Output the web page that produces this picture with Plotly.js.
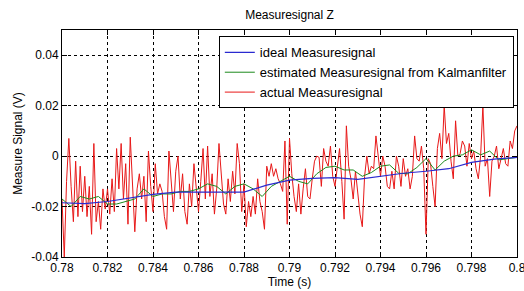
<!DOCTYPE html>
<html>
<head>
<meta charset="utf-8">
<script src="https://cdn.plot.ly/plotly-3.0.1.min.js"></script>
<style>html,body{margin:0;padding:0;background:#fff;}#chart{width:524px;height:291px;}</style>
</head>
<body>
<div id="chart"></div>
<script>
// Time axis tick labels
const tickValues = [0.78,0.782,0.784,0.786,0.788,0.79,0.792,0.794,0.796,0.798,0.8];
const tickLabels = ["0.78","0.782","0.784","0.786","0.788","0.79","0.792","0.794","0.796","0.798","0.8"];
const yTickValues = [-0.04,-0.02,0,0.02,0.04];
const yTickLabels = ["-0.04","-0.02","0","0.02","0.04"];

// ideal Measuresignal, sampled every 0.001 s from 0.78
const idealStart = 0.78, idealStep = 0.001;
const ideal = [-0.0185,-0.0188,-0.0180,-0.0165,-0.0152,-0.0143,-0.0143,-0.0145,-0.0143,-0.0115,
  -0.0095,-0.0088,-0.0085,-0.0092,-0.0080,-0.0068,-0.0060,-0.0050,-0.0025,-0.0012,-0.0005];

// estimated Measuresignal from Kalmanfilter, every 0.0004 s from 0.78
const estStart = 0.78, estStep = 0.0004;
const estimated = [-0.017,-0.020,-0.016,-0.017,-0.016,-0.019,-0.019,-0.018,-0.017,-0.013,
  -0.016,-0.015,-0.015,-0.014,-0.014,-0.013,-0.011,-0.012,-0.015,-0.012,
  -0.011,-0.013,-0.016,-0.012,-0.010,-0.008,-0.010,-0.011,-0.007,-0.0045,
  -0.004,-0.0055,-0.0055,-0.008,-0.0065,-0.004,-0.0035,-0.0068,-0.007,-0.0045,
  -0.001,-0.0055,-0.002,0.000,0.0005,0.0025,0.0005,0.002,-0.0015,-0.001,
  -0.0005];

// actual Measuresignal, every 0.0001 s from 0.78
const actStart = 0.78, actStep = 0.0001;
const actual = [-0.017,-0.040,-0.010,0.007,-0.012,-0.026,-0.002,-0.024,-0.004,-0.022,
  -0.008,-0.024,-0.012,-0.031,0.005,-0.026,-0.018,-0.029,-0.013,-0.021,
  -0.013,-0.023,-0.009,-0.022,0.003,-0.013,0.005,-0.017,-0.003,-0.027,
  0.0075,-0.011,-0.030,-0.013,-0.007,-0.017,-0.008,-0.026,0.002,-0.012,
  -0.022,-0.003,-0.015,-0.011,-0.014,-0.024,-0.029,0.002,-0.012,-0.022,
  -0.006,0.000,-0.017,-0.007,-0.022,-0.027,-0.011,-0.020,-0.003,-0.012,
  -0.022,-0.010,0.003,-0.017,0.004,-0.016,-0.007,-0.023,-0.013,0.005,
  -0.007,-0.019,-0.023,-0.009,-0.018,-0.006,-0.015,0.005,-0.003,-0.022,
  -0.011,-0.028,-0.018,-0.024,-0.016,-0.023,-0.009,-0.018,-0.022,-0.029,
  -0.004,-0.008,-0.003,-0.008,-0.005,-0.009,-0.011,-0.014,0.006,-0.027,
  0.007,-0.007,-0.016,-0.022,-0.011,-0.023,-0.013,-0.005,-0.016,-0.017,
  -0.009,-0.002,0.000,-0.0005,-0.012,0.003,-0.002,-0.004,0.004,-0.008,
  -0.012,-0.005,0.003,-0.010,-0.025,0.012,-0.004,-0.009,-0.017,-0.006,
  -0.015,-0.023,-0.028,-0.008,0.000,-0.007,-0.004,-0.005,0.008,-0.001,
  -0.008,0.000,-0.004,-0.012,-0.013,-0.006,-0.013,0.000,-0.004,-0.012,
  -0.001,-0.008,-0.005,-0.013,-0.008,0.008,-0.001,-0.002,0.004,-0.005,
  -0.031,-0.001,-0.003,-0.012,-0.020,0.003,0.009,-0.001,0.020,0.005,
  0.009,-0.002,-0.009,0.014,0.000,0.001,0.006,0.004,-0.004,0.005,
  -0.001,0.002,-0.005,-0.009,0.000,0.020,-0.004,-0.001,-0.016,-0.002,
  0.000,0.004,-0.005,-0.001,0.003,-0.003,-0.004,0.006,0.003,0.010,
  0.012];

const FONT = "Liberation Sans, Arial, sans-serif";

const traces = [
  {type:"scatter", mode:"lines", name:"actual Measuresignal", x0:actStart, dx:actStep, y:actual,
   line:{color:"#e81818", width:1}, legendrank:3},
  {type:"scatter", mode:"lines", name:"estimated Measuresignal from Kalmanfilter", x0:estStart, dx:estStep, y:estimated,
   line:{color:"#1c8a1c", width:1}, legendrank:2},
  {type:"scatter", mode:"lines", name:"ideal Measuresignal", x0:idealStart, dx:idealStep, y:ideal,
   line:{color:"#2a2ad0", width:1.2}, legendrank:1}
];

const axisCommon = {
  showline:true, linecolor:"#000", linewidth:1, mirror:"allticks",
  ticks:"inside", ticklen:5, tickcolor:"#000",
  showgrid:true, gridcolor:"#000", griddash:"dot", gridwidth:1,
  zeroline:false, tickfont:{family:FONT, size:12, color:"#000"},
  ticklabeloverflow:"allow"
};

const layout = {
  width:524, height:291,
  margin:{l:62, r:7, t:30, b:34},
  paper_bgcolor:"#fff", plot_bgcolor:"#fff",
  title:{text:"Measuresignal Z", font:{family:FONT, size:12, color:"#000"}, x:0.5, xanchor:"center", y:0.95, yanchor:"middle", xref:"paper"},
  xaxis:Object.assign({}, axisCommon, {
    range:[0.78, 0.8], tickmode:"array", tickvals:tickValues, ticktext:tickLabels,
    title:{text:"Time (s)", font:{family:FONT, size:12, color:"#000"}, standoff:2}
  }),
  yaxis:Object.assign({}, axisCommon, {
    range:[-0.04, 0.05], tickmode:"array", tickvals:yTickValues, ticktext:yTickLabels,
    title:{text:"Measure Signal (V)", font:{family:FONT, size:12, color:"#000"}, standoff:6}
  }),
  showlegend:true,
  legend:{x:0.993, y:0.972, xanchor:"right", yanchor:"top", bgcolor:"#fff", bordercolor:"#000", borderwidth:1,
    font:{family:FONT, size:13, color:"#000"}, tracegroupgap:0, itemwidth:30}
};

Plotly.newPlot("chart", traces, layout, {staticPlot:true, displayModeBar:false});
</script>
</body>
</html>
